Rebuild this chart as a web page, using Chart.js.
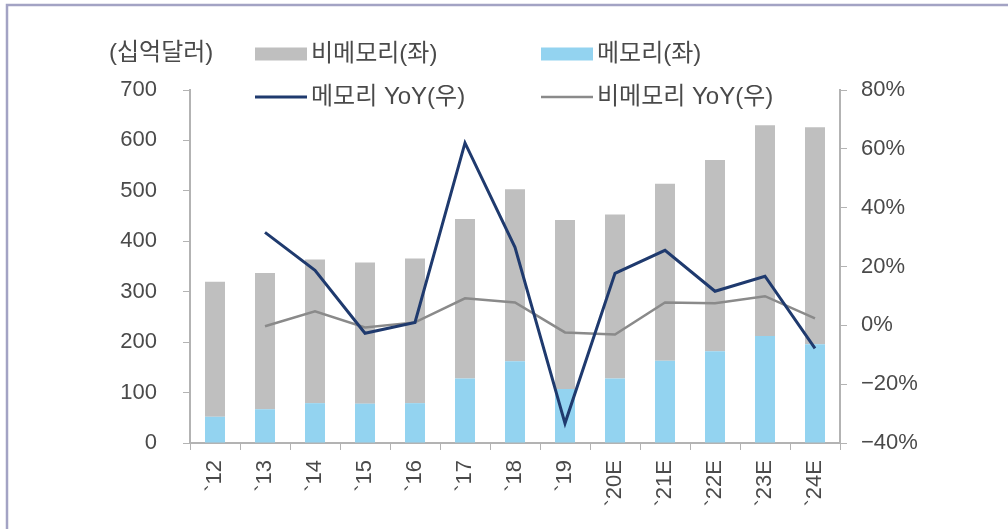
<!DOCTYPE html>
<html>
<head>
<meta charset="utf-8">
<script src="https://cdn.jsdelivr.net/npm/chart.js@4.4.1/dist/chart.umd.min.js"></script>
<style>
  html, body { margin: 0; padding: 0; background: #ffffff; }
  #wrap { position: relative; width: 1008px; height: 529px; }
  canvas { display: block; }
</style>
</head>
<body>
<div id="wrap"><canvas id="c" width="1008" height="529"></canvas></div>
<script>
const categories = ["`12", "`13", "`14", "`15", "`16", "`17", "`18", "`19", "`20E", "`21E", "`22E", "`23E", "`24E"];
const memory =    [52, 67, 79, 78, 79, 128, 162, 107, 128, 163, 182, 212, 196];
const nonMemory = [268, 270, 285, 280, 287, 316, 341, 335, 325, 351, 379, 418, 430];
const memoryYoY =    [null, 31.6, 18.7, -2.7, 1.0, 62.0, 26.5, -33.3, 17.7, 25.5, 11.6, 16.7, -7.8];
const nonMemoryYoY = [null, -0.3, 4.8, -0.7, 1.0, 9.2, 7.8, -2.4, -3.1, 7.8, 7.5, 9.9, 2.4];
const leftTicks = [0, 100, 200, 300, 400, 500, 600, 700];
const rightTicks = [-40, -20, 0, 20, 40, 60, 80];
const unitLabel = "(십억달러)";
const labels = { nonMem: "비메모리(좌)", mem: "메모리(좌)", memYoY: "메모리 YoY(우)", nonMemYoY: "비메모리 YoY(우)" };

const C = { grayBar: "#bfbfbf", blueBar: "#93d3f0", navy: "#1f3a6e", grayLine: "#8a8a8a", axis: "#b3b3b3", text: "#4a4a4a" };
const FONT = "'Liberation Sans', 'Noto Sans CJK KR', sans-serif";

const framePlugin = {
  id: "frame",
  beforeDraw(chart) {
    const ctx = chart.ctx;
    ctx.save();
    ctx.fillStyle = "#ffffff";
    ctx.fillRect(0, 0, chart.width, chart.height);
    ctx.strokeStyle = "#a3a3c4";
    ctx.lineWidth = 2.5;
    ctx.beginPath();
    ctx.moveTo(7, 529);
    ctx.lineTo(7, 5);
    ctx.lineTo(1008, 5);
    ctx.stroke();
    ctx.restore();
  }
};

const legendPlugin = {
  id: "customLegend",
  afterDraw(chart) {
    const ctx = chart.ctx;
    ctx.save();
    ctx.font = "24px " + FONT;
    ctx.fillStyle = C.text;
    ctx.textBaseline = "middle";
    ctx.textAlign = "left";
    ctx.fillText(unitLabel, 109, 53);
    const items = [
      { t: labels.nonMem, x: 255, y: 54, kind: "box", c: C.grayBar },
      { t: labels.mem, x: 541, y: 54, kind: "box", c: C.blueBar },
      { t: labels.memYoY, x: 255, y: 97, kind: "line", c: C.navy, w: 3 },
      { t: labels.nonMemYoY, x: 541, y: 97, kind: "line", c: C.grayLine, w: 2.5 }
    ];
    items.forEach(it => {
      if (it.kind === "box") {
        ctx.fillStyle = it.c;
        ctx.fillRect(it.x, it.y - 6.5, 52, 13);
      } else {
        ctx.strokeStyle = it.c;
        ctx.lineWidth = it.w;
        ctx.beginPath();
        ctx.moveTo(it.x, it.y);
        ctx.lineTo(it.x + 52, it.y);
        ctx.stroke();
      }
      ctx.fillStyle = C.text;
      ctx.fillText(it.t, it.x + 56, it.y);
    });
    ctx.restore();
  }
};

new Chart(document.getElementById("c"), {
  type: "bar",
  data: {
    labels: categories,
    datasets: [
      { type: "line", label: labels.memYoY, data: memoryYoY, yAxisID: "y2", borderColor: C.navy, borderWidth: 3, pointRadius: 0, tension: 0, order: 0, spanGaps: false },
      { type: "line", label: labels.nonMemYoY, data: nonMemoryYoY, yAxisID: "y2", borderColor: C.grayLine, borderWidth: 2.5, pointRadius: 0, tension: 0, order: 1 },
      { label: labels.mem, data: memory, backgroundColor: C.blueBar, yAxisID: "y", stack: "s", order: 2, barPercentage: 0.4, categoryPercentage: 1.0 },
      { label: labels.nonMem, data: nonMemory, backgroundColor: C.grayBar, yAxisID: "y", stack: "s", order: 3, barPercentage: 0.4, categoryPercentage: 1.0 }
    ]
  },
  options: {
    responsive: false,
    animation: false,
    layout: { padding: { top: 90, left: 0, right: 0, bottom: 0 } },
    plugins: { legend: { display: false }, tooltip: { enabled: false } },
    scales: {
      x: {
        stacked: true,
        offset: true,
        grid: { display: true, drawOnChartArea: false, drawTicks: true, tickLength: 7, color: C.axis, offset: true },
        border: { color: C.axis, width: 2 },
        ticks: { color: C.text, font: { family: FONT, size: 22 }, minRotation: 90, maxRotation: 90, autoSkip: false, padding: 10 },
        afterFit(s) { s.height = 86; }
      },
      y: {
        position: "left",
        stacked: true,
        min: 0, max: 700,
        afterBuildTicks(s) { s.ticks = leftTicks.map(v => ({ value: v })); },
        grid: { drawOnChartArea: false, drawTicks: true, tickLength: 7, color: C.axis },
        border: { color: C.axis, width: 2 },
        ticks: { color: C.text, font: { family: FONT, size: 22 }, padding: 26 },
        afterFit(s) { s.width = 190; }
      },
      y2: {
        position: "right",
        min: -40, max: 80,
        afterBuildTicks(s) { s.ticks = rightTicks.map(v => ({ value: v })); },
        grid: { drawOnChartArea: false, drawTicks: true, tickLength: 7, color: C.axis },
        border: { color: C.axis, width: 2 },
        ticks: { color: C.text, font: { family: FONT, size: 22 }, padding: 14,
          callback: v => (v < 0 ? "\u2212" + Math.abs(v) : v) + "%" },
        afterFit(s) { s.width = 168; }
      }
    }
  },
  plugins: [framePlugin, legendPlugin]
});
</script>
</body>
</html>
